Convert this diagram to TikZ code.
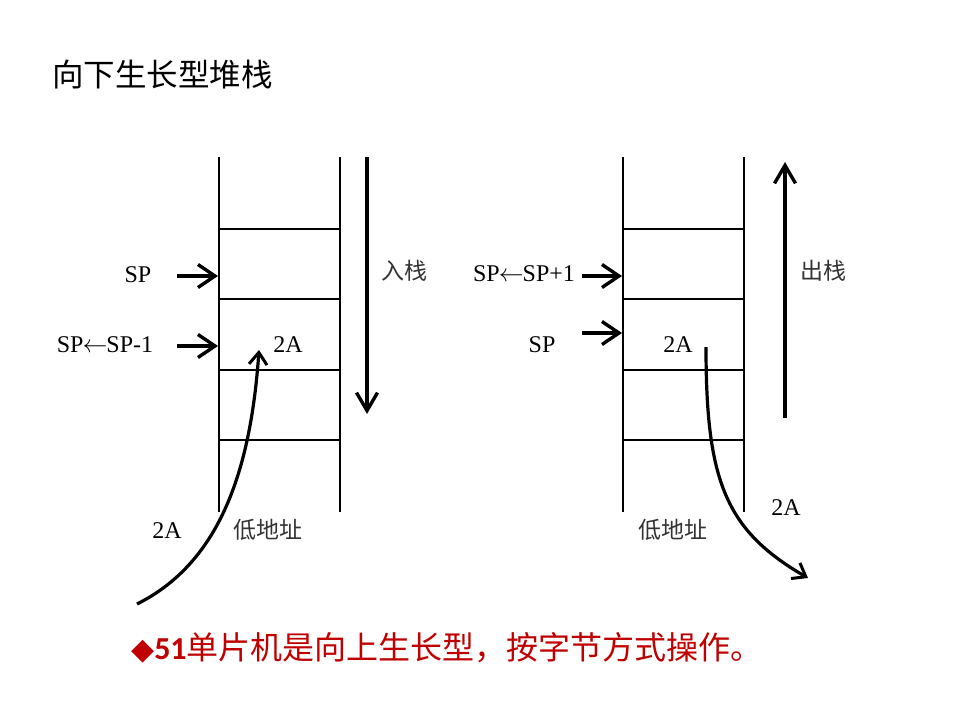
\documentclass[tikz,border=0pt]{standalone}
\usepackage{fontspec}
\setmainfont{Liberation Serif}
\newfontfamily\cjk{Noto Sans CJK SC}
\newfontfamily\calib{Carlito}
\newfontfamily\symb{DejaVu Sans}
\usetikzlibrary{arrows.meta}
\definecolor{notered}{RGB}{192,0,0}
\newcommand{\getsarrow}{\kern-1pt$\leftarrow$\kern-1pt}
\tikzset{every node/.style={inner sep=0pt, font=\fontsize{24}{28}\selectfont}}
\tikzset{cell/.style={line width=1.6pt}}
\tikzset{ptr/.style={line width=4.4pt,-{Straight Barb[length=17pt,width=23pt,line width=3.4pt]}}}
\tikzset{flow/.style={line width=4pt,-{Straight Barb[length=18pt,width=21pt,line width=3.4pt]}}}
\tikzset{move/.style={line width=3.2pt,-{Straight Barb[length=12pt,width=18pt,line width=3pt]}}}
\tikzset{soft/.style={text=black!80, font=\fontsize{23}{28}\selectfont\cjk}}

\begin{document}
\begin{tikzpicture}[x=1pt, y=-1pt]
		\useasboundingbox (0,0) rectangle (960,720);
		\node[anchor=west, font=\fontsize{31.5}{36}\selectfont\cjk] (title) at (52,75) {向下生长型堆栈};
		% push stack
		\draw[cell] (219,157) -- (219,512);
		\draw[cell] (340,157) -- (340,512);
		\draw[cell] (219,229) -- (340,229);
		\draw[cell] (219,299) -- (340,299);
		\draw[cell] (219,370) -- (340,370);
		\draw[cell] (219,440) -- (340,440);
		\node (spL) at (138,275) {SP};
		\node (spdec) at (105,345) {SP\getsarrow SP-1};
		\node (inL) at (288,345) {2A};
		\node (dataL) at (167,531) {2A};
		\node[soft] (push) at (404,271) {入栈};
		\node[soft] (lowL) at (268,530) {低地址};
		\coordinate (p1) at (218,276);
		\coordinate (p2) at (218,346);
		\coordinate (p1s) at (177,276);
		\coordinate (p2s) at (177,346);
		\coordinate (srcL) at (137,604);
		\coordinate (dstL) at (259,350);
		\coordinate (pushtop) at (367,157);
		\coordinate (pushend) at (367,414);
		\draw[ptr] (p1s) -- (p1);
		\draw[ptr] (p2s) -- (p2);
		\draw[flow] (pushtop) -- (pushend);
		\draw[move] (srcL) .. controls (215,565) and (250,480) .. (dstL);
		% pop stack
		\draw[cell] (623,157) -- (623,512);
		\draw[cell] (744,157) -- (744,512);
		\draw[cell] (623,229) -- (744,229);
		\draw[cell] (623,299) -- (744,299);
		\draw[cell] (623,370) -- (744,370);
		\draw[cell] (623,440) -- (744,440);
		\node (spinc) at (524,274) {SP\getsarrow SP+1};
		\node (spR) at (542,345) {SP};
		\node (inR) at (678,345) {2A};
		\node (dataR) at (786,508) {2A};
		\node[soft] (pop) at (823,271) {出栈};
		\node[soft] (lowR) at (673,530) {低地址};
		\coordinate (q1) at (622,276);
		\coordinate (q2) at (622,333);
		\coordinate (q2s) at (582,333);
		\coordinate (q1s) at (582,276);
		\coordinate (srcR) at (706,347);
		\coordinate (dstR) at (808,578);
		\coordinate (popbot) at (785,418);
		\coordinate (popend) at (785,162);
		\draw[ptr] (q1s) -- (q1);
		\draw[ptr] (q2s) -- (q2);
		\draw[flow] (popbot) -- (popend);
		\draw[move] (srcR) .. controls (706,480) and (725,530) .. (dstR);
		% note
		\node[anchor=west, text=notered, font=\fontsize{32}{38}\selectfont\cjk] (note) at (131,648)
			{{\symb\fontsize{30}{36}\selectfont ◆}{\calib\bfseries 51}单片机是向上生长型，按字节方式操作。};
		\end{tikzpicture}
\end{document}
